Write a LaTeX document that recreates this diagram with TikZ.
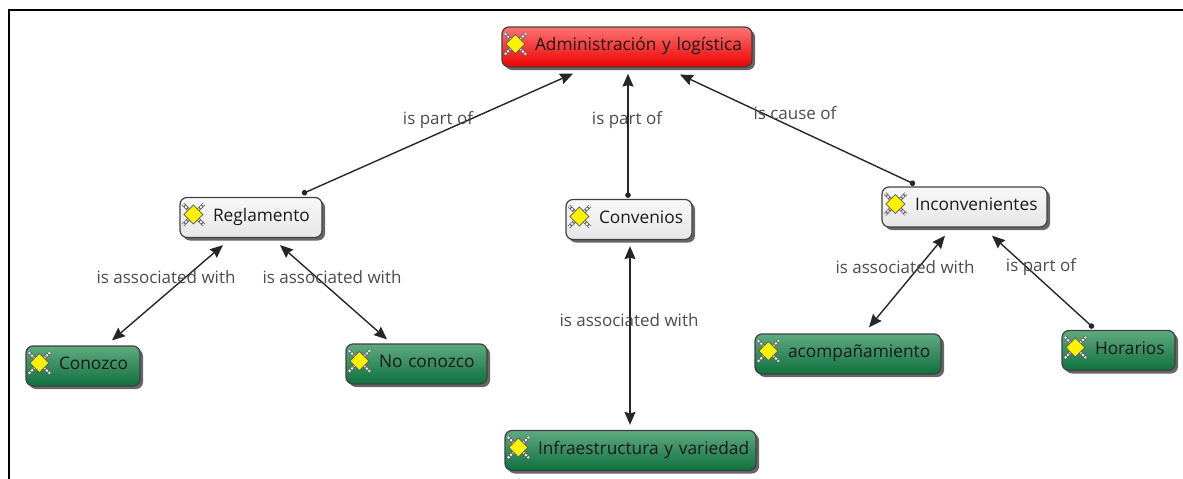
\documentclass[tikz,border=0pt]{standalone}
\usepackage{fontspec}
\setmainfont{Open Sans}
\usetikzlibrary{arrows.meta,shadows}
\definecolor{redtop}{RGB}{255,115,115}
\definecolor{redmid}{RGB}{255,25,25}
\definecolor{redlow}{RGB}{235,0,0}
\definecolor{greentop}{RGB}{95,170,128}
\definecolor{greenmid}{RGB}{45,140,90}
\definecolor{greenlow}{RGB}{15,112,62}
\definecolor{greytop}{RGB}{248,248,248}
\definecolor{greylow}{RGB}{230,230,230}
\tikzset{
  concept/.style={draw=black!75,line width=1.2pt,rounded corners=7pt,text width=#1,inner xsep=3pt,inner ysep=0pt,
    minimum height=40pt,text height=12pt,text depth=4.5pt,text=black!90,font=\fontsize{17.3}{20}\selectfont,align=left,
    execute at begin node=\hspace*{30pt},
    drop shadow={shadow xshift=3pt,shadow yshift=-3pt,opacity=.6,fill=black}},
  redbox/.style={concept=#1,top color=redtop,middle color=redmid,bottom color=redlow},
  greybox/.style={concept=#1,top color=greytop,bottom color=greylow},
  greenbox/.style={concept=#1,top color=greentop,middle color=greenmid,bottom color=greenlow},
  linklabel/.style={text=black!70,inner sep=0pt,font=\fontsize{17}{20}\selectfont},
  link/.style={line width=1.4pt,black!85},
  isa/.style={link,{Circle[length=5.5pt]}-{Stealth[length=13pt,width=11pt,inset=1.5pt]}},
  assoc/.style={link,{Stealth[length=13pt,width=11pt,inset=1.5pt]}-{Stealth[length=13pt,width=11pt,inset=1.5pt]}},
  gem/.pic={
    \draw[black!60,line width=3.4pt] (-10.5,-10.5)--(10.5,10.5) (-10.5,10.5)--(10.5,-10.5);
    \draw[white,line width=1.8pt,dash pattern=on 2pt off 1.5pt] (-10.5,-10.5)--(10.5,10.5) (-10.5,10.5)--(10.5,-10.5);
    \draw[black!65,fill=yellow,line width=.8pt] (0,-9.5)--(9.5,0)--(0,9.5)--(-9.5,0)--cycle;
  }
}
\begin{document}
\begin{tikzpicture}[x=1pt,y=-1pt]
\useasboundingbox (0,0) rectangle (1183,479);
\draw[line width=2pt] (9,479)--(9,10)--(1183,10);
\node (admin) [redbox=244pt] at (627,47) {Administración y logística};
\node (regl)  [greybox=136pt] at (251,217.5) {Reglamento};
\node (conv)  [greybox=120pt] at (629,219.5) {Convenios};
\node (incon) [greybox=159pt] at (964.5,207) {Inconvenientes};
\node (cono)  [greenbox=108pt] at (83,366) {Conozco};
\node (noco)  [greenbox=135pt] at (416.5,364) {No conozco};
\node (acom)  [greenbox=180pt] at (848,354) {acompañamiento};
\node (hora)  [greenbox=107pt] at (1118.5,350.5) {Horarios};
\node (infra) [greenbox=245pt] at (630.5,450.5) {Infraestructura y variedad};
\foreach \n in {admin,regl,conv,incon,cono,noco,acom,hora,infra}
  \pic at ([xshift=14pt,yshift=3pt]\n.west) {gem};
\draw[isa] ([xshift=51pt,yshift=3pt]regl.north) -- ([xshift=-54pt,yshift=-6pt]admin.south);
\draw[isa] ([xshift=-1pt,yshift=1pt]conv.north) -- ([xshift=1pt,yshift=-6pt]admin.south);
\draw[isa] ([xshift=-49.5pt,yshift=2pt]incon.north) -- ([xshift=53pt,yshift=-7pt]admin.south);
\draw[assoc] ([xshift=-28pt,yshift=-7pt]regl.south) -- ([xshift=29pt,yshift=5pt]cono.north);
\draw[assoc] ([xshift=29pt,yshift=-7pt]regl.south) -- ([xshift=-29.5pt,yshift=4pt]noco.north);
\draw[assoc] ([xshift=1pt,yshift=-6pt]conv.south) -- ([xshift=-.5pt,yshift=5pt]infra.north);
\draw[assoc] ([xshift=-19.5pt,yshift=-8pt]incon.south) -- ([xshift=21pt,yshift=6pt]acom.north);
\draw[isa] ([xshift=-25pt,yshift=2pt]hora.north) -- ([xshift=27.5pt,yshift=-8pt]incon.south);
\node (l1) [linklabel] at (438,120) {is part of};
\node (l2) [linklabel] at (627,120) {is part of};
\node (l3) [linklabel] at (795,113) {is cause of};
\node (l4) [linklabel] at (166,277) {is associated with};
\node (l5) [linklabel] at (332,277) {is associated with};
\node (l6) [linklabel] at (629,320) {is associated with};
\node (l7) [linklabel] at (905,267) {is associated with};
\node (l8) [linklabel] at (1041,267) {is part of};
\end{tikzpicture}
\end{document}
